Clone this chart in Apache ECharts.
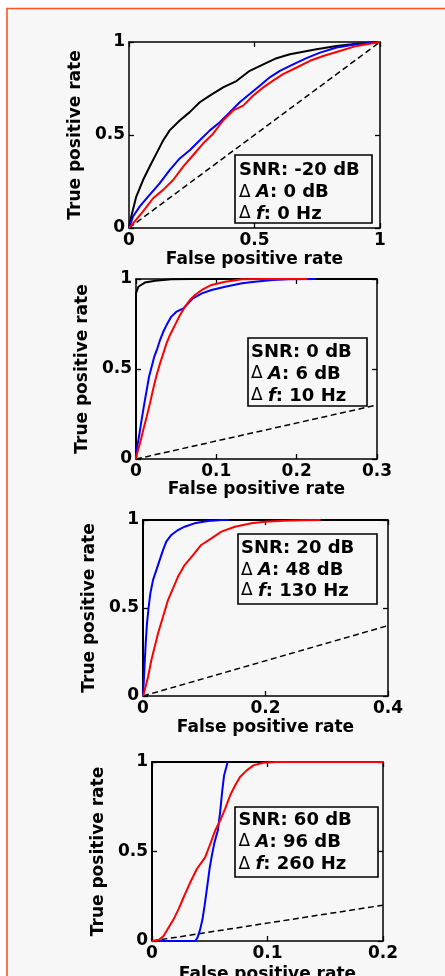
<!DOCTYPE html>
<html>
<head>
<meta charset="utf-8">
<script src="https://cdn.jsdelivr.net/npm/echarts@6/dist/echarts.min.js"></script>
<style>
html,body{margin:0;padding:0;background:#ffffff;}
#chart{width:445px;height:976px;}
</style>
</head>
<body>
<div id="chart"></div>
<script>
// ---------- data (false positive rate, true positive rate) ----------
const xMax = [1, 0.3, 0.4, 0.2];
const xInterval = [0.5, 0.1, 0.2, 0.1];
const yTicks = [0, 0.5, 1];

const snrLabels = ['SNR: -20 dB', 'SNR: 0 dB', 'SNR: 20 dB', 'SNR: 60 dB'];
const dALabels = [': 0 dB', ': 6 dB', ': 48 dB', ': 96 dB'];
const dFLabels = [': 0 Hz', ': 10 Hz', ': 130 Hz', ': 260 Hz'];

// Plot 1: SNR -20 dB
const p1Black = [[0,0],[0.009,0.062],[0.029,0.169],[0.056,0.258],[0.082,0.329],[0.109,0.40],[0.136,0.47],[0.162,0.525],[0.202,0.578],[0.242,0.623],[0.282,0.676],[0.322,0.712],[0.375,0.756],[0.428,0.79],[0.481,0.845],[0.535,0.88],[0.588,0.913],[0.641,0.934],[0.694,0.948],[0.747,0.961],[0.827,0.979],[0.907,0.991],[1,1]];
const p1Blue = [[0,0],[0.016,0.062],[0.043,0.116],[0.082,0.178],[0.122,0.24],[0.162,0.311],[0.202,0.374],[0.242,0.418],[0.282,0.472],[0.322,0.525],[0.362,0.569],[0.402,0.623],[0.441,0.676],[0.481,0.72],[0.521,0.765],[0.561,0.81],[0.601,0.845],[0.654,0.88],[0.707,0.913],[0.761,0.943],[0.827,0.97],[0.907,0.988],[1,1]];
const p1Red = [[0,0],[0.023,0.036],[0.056,0.089],[0.096,0.16],[0.136,0.205],[0.176,0.258],[0.215,0.329],[0.255,0.391],[0.295,0.454],[0.335,0.507],[0.375,0.578],[0.415,0.632],[0.455,0.658],[0.495,0.712],[0.535,0.756],[0.574,0.792],[0.614,0.827],[0.668,0.863],[0.721,0.899],[0.774,0.925],[0.84,0.952],[0.907,0.979],[1,1]];

// Plot 2: SNR 0 dB
const p2Black = [[0,0],[0,0.92],[0.0029,0.957],[0.011,0.98],[0.024,0.99],[0.044,0.998],[0.07,1],[0.3,1]];
const p2Blue = [[0,0],[0.0008,0.05],[0.0037,0.124],[0.007,0.217],[0.0104,0.309],[0.0133,0.383],[0.0162,0.457],[0.0195,0.513],[0.0228,0.569],[0.0266,0.615],[0.0299,0.661],[0.034,0.707],[0.038,0.744],[0.044,0.791],[0.0506,0.819],[0.059,0.837],[0.065,0.865],[0.071,0.893],[0.082,0.92],[0.094,0.939],[0.111,0.957],[0.132,0.976],[0.148,0.985],[0.17,0.994],[0.19,0.998],[0.224,1]];
const p2Red = [[0,0],[0.0008,0.022],[0.005,0.087],[0.009,0.161],[0.0133,0.235],[0.0174,0.309],[0.0216,0.393],[0.0257,0.467],[0.0299,0.531],[0.034,0.587],[0.038,0.643],[0.0423,0.689],[0.0485,0.744],[0.0548,0.80],[0.061,0.846],[0.067,0.883],[0.0734,0.911],[0.082,0.939],[0.094,0.967],[0.111,0.985],[0.132,0.998],[0.16,1],[0.213,1]];

// Plot 3: SNR 20 dB
const p3Black = [[0,0],[0,1],[0.4,1]];
const p3Blue = [[0,0],[0.0011,0.07],[0.0027,0.184],[0.0044,0.298],[0.0065,0.412],[0.0093,0.507],[0.012,0.583],[0.0163,0.658],[0.0218,0.715],[0.0272,0.772],[0.0327,0.829],[0.038,0.877],[0.0463,0.915],[0.057,0.943],[0.068,0.962],[0.084,0.981],[0.106,0.994],[0.128,1],[0.14,1]];
const p3Red = [[0,0],[0.0027,0.032],[0.0082,0.108],[0.0136,0.203],[0.019,0.279],[0.0245,0.355],[0.0327,0.45],[0.0408,0.545],[0.049,0.611],[0.057,0.677],[0.068,0.744],[0.0816,0.80],[0.095,0.858],[0.1116,0.896],[0.128,0.934],[0.15,0.962],[0.177,0.981],[0.199,0.99],[0.229,0.996],[0.26,0.999],[0.29,1]];

// Plot 4: SNR 60 dB
const p4Black = [[0,0],[0,1],[0.2,1]];
const p4Blue = [[0,0],[0.0374,0],[0.0394,0.019],[0.0417,0.065],[0.0437,0.121],[0.0455,0.196],[0.0475,0.29],[0.0498,0.402],[0.0518,0.477],[0.0541,0.551],[0.057,0.617],[0.059,0.72],[0.0607,0.832],[0.0624,0.925],[0.0655,1]];
const p4Red = [[0,0],[0.0058,0.006],[0.01,0.028],[0.0144,0.075],[0.0187,0.121],[0.023,0.178],[0.0273,0.243],[0.0331,0.327],[0.0388,0.402],[0.046,0.467],[0.0504,0.542],[0.0547,0.617],[0.059,0.673],[0.0633,0.738],[0.0676,0.813],[0.0719,0.869],[0.0762,0.916],[0.082,0.953],[0.0878,0.981],[0.0964,0.996],[0.108,1],[0.2,1]];

const blackCurves = [p1Black, p2Black, p3Black, p4Black];
const blueCurves = [p1Blue, p2Blue, p3Blue, p4Blue];
const redCurves = [p1Red, p2Red, p3Red, p4Red];

// ---------- layout ----------
const FONT = 'DejaVu Sans';
const grids = [
  {left: 129, top: 42, width: 251, height: 186},
  {left: 136, top: 279, width: 241, height: 180},
  {left: 143, top: 520, width: 245, height: 176},
  {left: 152, top: 762, width: 231, height: 179}
];
const xNameGaps = [23, 22, 23, 25];
const boxes = [
  {x: 235, y: 155, w: 137, h: 68, tx: 239, ly: [170, 192.5, 214]},
  {x: 248, y: 338, w: 119, h: 68, tx: 251, ly: [352, 374, 396]},
  {x: 238, y: 534, w: 139, h: 70, tx: 241, ly: [548.5, 570.5, 591]},
  {x: 235, y: 807, w: 143, h: 70, tx: 238.5, ly: [820.5, 842, 864.5]}
];

const lineAxis = {show: true, onZero: false, lineStyle: {color: '#000', width: 1.5}};
const tick = {show: true, inside: true, length: 5, lineStyle: {color: '#000', width: 1.3}};
const lblStyle = {color: '#000', fontFamily: FONT, fontWeight: 'bold', fontSize: 17};
const nameStyle = {color: '#000', fontFamily: FONT, fontWeight: 'bold', fontSize: 17};

const xAxes = [], yAxes = [], series = [], graphics = [];

graphics.push({
  type: 'rect', z: -10, silent: true,
  shape: {x: 7, y: 8.5, width: 460, height: 1000},
  style: {fill: '#f7f7f7', stroke: '#ff5424', lineWidth: 1.6}
});

grids.forEach((g, i) => {
  const xm = xMax[i];
  xAxes.push({
    type: 'value', gridIndex: i, position: 'bottom', min: 0, max: xm, interval: xInterval[i],
    name: 'False positive rate', nameLocation: 'middle', nameGap: xNameGaps[i], nameTextStyle: nameStyle,
    axisLine: lineAxis, axisTick: tick, splitLine: {show: false},
    axisLabel: Object.assign({margin: 4, showMinLabel: true, showMaxLabel: true}, lblStyle)
  });
  xAxes.push({
    type: 'value', gridIndex: i, position: 'top', min: 0, max: xm, interval: xInterval[i],
    axisLine: lineAxis, axisTick: tick, splitLine: {show: false}, axisLabel: {show: false}
  });
  yAxes.push({
    type: 'value', gridIndex: i, position: 'left', min: 0, max: 1, interval: 0.5,
    name: 'True positive rate', nameLocation: 'middle', nameGap: 40, nameTextStyle: nameStyle,
    axisLine: lineAxis, axisTick: tick, splitLine: {show: false},
    axisLabel: Object.assign({margin: 4}, lblStyle)
  });
  yAxes.push({
    type: 'value', gridIndex: i, position: 'right', min: 0, max: 1, interval: 0.5,
    axisLine: lineAxis, axisTick: tick, splitLine: {show: false}, axisLabel: {show: false}
  });
  const xi = i * 2, yi = i * 2;
  series.push({
    type: 'line', xAxisIndex: xi, yAxisIndex: yi, data: [[0, 0], [xm, xm]],
    symbol: 'none', silent: true, lineStyle: {color: '#000', width: 1.5, type: [6, 3.5]}
  });
  series.push({
    type: 'line', xAxisIndex: xi, yAxisIndex: yi, data: blackCurves[i],
    symbol: 'none', silent: true, lineStyle: {color: '#000', width: 2}
  });
  series.push({
    type: 'line', xAxisIndex: xi, yAxisIndex: yi, data: blueCurves[i],
    symbol: 'none', silent: true, lineStyle: {color: '#0000ff', width: 2}
  });
  series.push({
    type: 'line', xAxisIndex: xi, yAxisIndex: yi, data: redCurves[i],
    symbol: 'none', silent: true, lineStyle: {color: '#ff0000', width: 2}
  });

  const b = boxes[i];
  graphics.push({
    type: 'rect', z: 50, silent: true,
    shape: {x: b.x, y: b.y, width: b.w, height: b.h},
    style: {fill: 'rgba(255,255,255,0)', stroke: '#000', lineWidth: 1.6}
  });
  const rich = {
    n: {fontFamily: FONT, fontWeight: 'bold', fontSize: 18, fill: '#000'},
    d: {fontFamily: FONT, fontWeight: 'normal', fontSize: 17, fill: '#000'},
    i: {fontFamily: FONT, fontWeight: 'bold', fontStyle: 'italic', fontSize: 18, fill: '#000'}
  };
  const lines = [
    '{n|' + snrLabels[i] + '}',
    '{d|Δ }{i|A}{n|' + dALabels[i] + '}',
    '{d|Δ }{i|f}{n|' + dFLabels[i] + '}'
  ];
  lines.forEach((t, k) => {
    graphics.push({
      type: 'text', z: 51, silent: true, x: b.tx, y: b.ly[k],
      style: {text: t, rich: rich, verticalAlign: 'middle', align: 'left',
              font: 'bold 18px ' + FONT, fill: '#000'}
    });
  });
});

const chart = echarts.init(document.getElementById('chart'), null, {renderer: 'canvas'});
chart.setOption({
  backgroundColor: '#ffffff',
  animation: false,
  grid: grids.map(g => Object.assign({containLabel: false, outerBoundsMode: 'none'}, g)),
  xAxis: xAxes,
  yAxis: yAxes,
  series: series,
  graphic: graphics
});
</script>
</body>
</html>
